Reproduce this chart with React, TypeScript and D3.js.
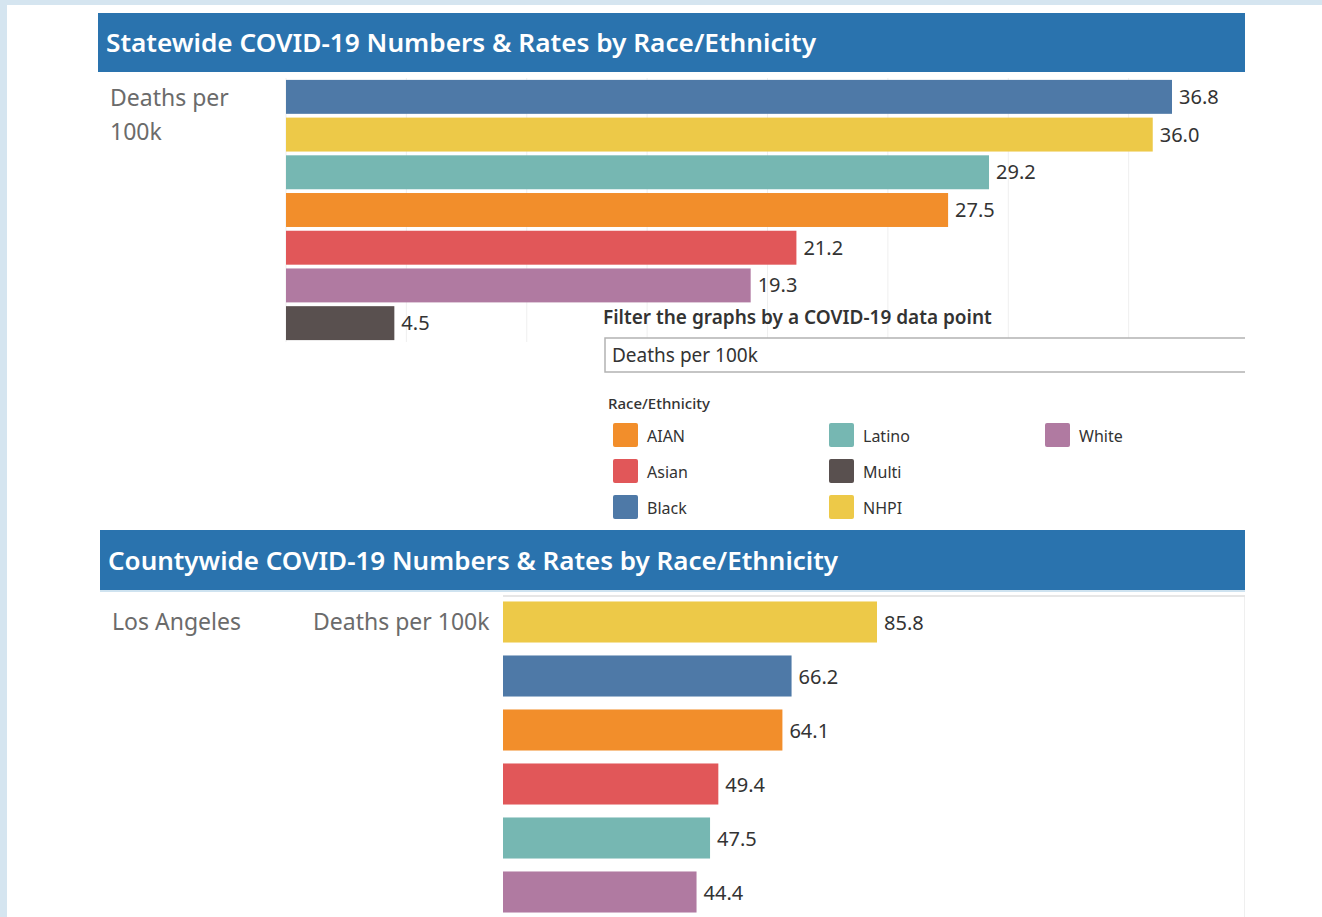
import React from 'react';
import * as d3 from 'd3';

// statewide deaths per 100k, sorted as shown
const stateGroups = ['Black', 'NHPI', 'Latino', 'AIAN', 'Asian', 'White', 'Multi'];
const stateValues = [36.8, 36.0, 29.2, 27.5, 21.2, 19.3, 4.5];

// Los Angeles county deaths per 100k (visible rows)
const countyGroups = ['NHPI', 'Black', 'AIAN', 'Asian', 'Latino', 'White'];
const countyValues = [85.8, 66.2, 64.1, 49.4, 47.5, 44.4];

const legendGroups = ['AIAN', 'Asian', 'Black', 'Latino', 'Multi', 'NHPI', 'White'];
const legendColors = ['#f28e2b', '#e15759', '#4e79a7', '#76b7b2', '#59504f', '#edc948', '#b07aa1'];

const W = 1322;
const H = 917;
const FONT = '"Noto Sans", "Open Sans", sans-serif';

export default function App() {
  const color = d3.scaleOrdinal<string, string>().domain(legendGroups).range(legendColors);

  // top chart scales
  const xTop = d3.scaleLinear().domain([0, d3.max(stateValues) as number]).range([286, 1172]);
  const yTop = d3.scaleBand().domain(stateGroups).range([78, 342]).paddingInner(0.1).paddingOuter(0.05);

  // bottom chart scales
  const xBot = d3.scaleLinear().domain([0, d3.max(countyValues) as number]).range([503, 877]);
  const yBot = d3.scaleBand().domain(countyGroups).range([595, 919]).paddingInner(0.24).paddingOuter(0.12);

  const legendX = (i: number) => 613 + Math.floor(i / 3) * 216;
  const legendY = (i: number) => 423 + (i % 3) * 36;

  return (
    <svg width={W} height={H} style={{ position: 'absolute', left: 0, top: 0 }} fontFamily={FONT}>
      <rect x={0} y={0} width={W} height={H} fill="#d5e5f0" />
      <rect x={7} y={5} width={W - 7} height={H - 5} fill="#ffffff" />

      {/* statewide header */}
      <rect x={98} y={13} width={1147} height={59} fill="#2a73ae" />
      <text x={106} y={52} fill="#fff" fontSize={26} fontWeight={600} textLength={710} lengthAdjust="spacingAndGlyphs">
        Statewide COVID-19 Numbers &amp; Rates by Race/Ethnicity
      </text>

      <text x={110} y={106} fill="#6b6b6b" fontSize={23}>Deaths per</text>
      <text x={110} y={140} fill="#6b6b6b" fontSize={23}>100k</text>

      {/* gridlines */}
      {xTop.ticks(8).map(t => (
        <line key={t} x1={xTop(t)} x2={xTop(t)} y1={78} y2={342} stroke="#efefef" strokeWidth={1} />
      ))}

      {stateGroups.map((g, i) => (
        <g key={g}>
          <rect x={xTop(0)} y={yTop(g)} width={xTop(stateValues[i]) - xTop(0)} height={yTop.bandwidth()} fill={color(g)} />
          <text x={xTop(stateValues[i]) + 7} y={(yTop(g) as number) + yTop.bandwidth() / 2 + 7} fill="#333" fontSize={20}>
            {d3.format('.1f')(stateValues[i])}
          </text>
        </g>
      ))}

      {/* filter control */}
      <text x={603} y={324} fill="#333" fontSize={19} fontWeight={600}>Filter the graphs by a COVID-19 data point</text>
      <rect x={605} y={338} width={640} height={34} fill="#fff" />
      <path d="M1245,338H605V372H1245" fill="none" stroke="#b3b3b3" strokeWidth={1.5} />
      <text x={612} y={362} fill="#333" fontSize={19}>Deaths per 100k</text>

      {/* legend */}
      <text x={608} y={409} fill="#333" fontSize={15} fontWeight={500}>Race/Ethnicity</text>
      {legendGroups.map((g, i) => (
        <g key={g}>
          <rect x={legendX(i)} y={legendY(i)} width={25} height={24} rx={2} fill={color(g)} />
          <text x={legendX(i) + 34} y={legendY(i) + 19} fill="#333" fontSize={16}>{g}</text>
        </g>
      ))}

      {/* countywide header */}
      <rect x={100} y={530} width={1145} height={60} fill="#2a73ae" />
      <rect x={100} y={590} width={1145} height={2} fill="#cfe3f0" />
      <text x={108} y={570} fill="#fff" fontSize={26} fontWeight={600} textLength={730} lengthAdjust="spacingAndGlyphs">
        Countywide COVID-19 Numbers &amp; Rates by Race/Ethnicity
      </text>

      <line x1={503} x2={1245} y1={596} y2={596} stroke="#e6e6e6" strokeWidth={2} />
      <line x1={1244.5} x2={1244.5} y1={597} y2={H} stroke="#efefef" strokeWidth={1} />

      <text x={112} y={630} fill="#6b6b6b" fontSize={23}>Los Angeles</text>
      <text x={313} y={630} fill="#6b6b6b" fontSize={23}>Deaths per 100k</text>

      {countyGroups.map((g, i) => (
        <g key={g}>
          <rect x={xBot(0)} y={yBot(g)} width={xBot(countyValues[i]) - xBot(0)} height={yBot.bandwidth()} fill={color(g)} />
          <text x={xBot(countyValues[i]) + 7} y={(yBot(g) as number) + yBot.bandwidth() / 2 + 8} fill="#333" fontSize={20}>
            {d3.format('.1f')(countyValues[i])}
          </text>
        </g>
      ))}
    </svg>
  );
}
